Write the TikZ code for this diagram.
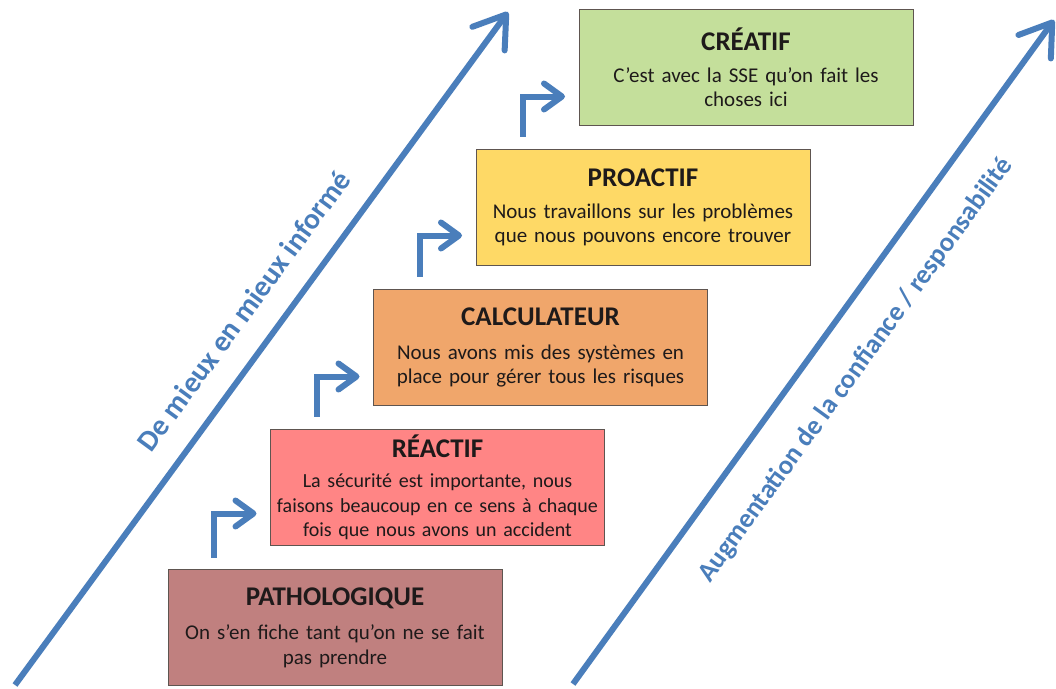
\documentclass[tikz,border=0pt]{standalone}
\usepackage{fontspec}
\setmainfont{Carlito}
\usetikzlibrary{arrows.meta,calc}
\definecolor{arrblue}{HTML}{4A7EBB}
\definecolor{cpatho}{HTML}{C0807F}
\definecolor{creact}{HTML}{FF8585}
\definecolor{ccalc}{HTML}{F0A66B}
\definecolor{cproa}{HTML}{FED966}
\definecolor{ccrea}{HTML}{C4DF9B}
\definecolor{cborder}{HTML}{5E5550}
\definecolor{ctext}{HTML}{1E1A1A}
\newcommand{\boxtitle}[1]{{\bfseries\fontsize{27}{24.5}\selectfont #1}}
\tikzset{
  stagebox/.style={draw=cborder, line width=1pt, rectangle, inner sep=0pt, outer sep=0pt,
    minimum width=334pt, minimum height=116pt, text width=330pt, align=center, text=ctext,
    font=\fontsize{21}{24.5}\selectfont},
  bigarrow/.style={draw=arrblue, line width=6pt, line cap=butt,
    -{Straight Barb[length=30pt,width=40pt,round]}},
  bentarrow/.style={draw=arrblue, line width=6pt, line cap=butt, line join=miter,
    -{Straight Barb[length=18pt,width=26pt,round]}},
  axislabel/.style={text=arrblue, inner sep=0pt, sloped}
}
\begin{document}
\begin{tikzpicture}[x=1pt,y=-1pt]
\useasboundingbox (0,0) rectangle (1056,688);
\fill[white] (0,0) rectangle (1056,688);

% stage boxes
\node[stagebox, fill=cpatho] (patho) at (335,627.5)
  {\boxtitle{PATHOLOGIQUE}\\[10pt]On s’en fiche tant qu’on ne se fait\\ pas prendre};
\node[stagebox, fill=creact, font=\fontsize{20}{24.5}\selectfont] (react) at (437.5,487.5)
  {\boxtitle{RÉACTIF}\\[6pt]La sécurité est importante, nous\\ faisons beaucoup en ce sens à chaque\\ fois que nous avons un accident};
\node[stagebox, fill=ccalc] (calc) at (540.5,347.5)
  {\boxtitle{CALCULATEUR}\\[9pt]Nous avons mis des systèmes en\\ place pour gérer tous les risques};
\node[stagebox, fill=cproa] (proa) at (643,207.5)
  {\boxtitle{PROACTIF}\\[7pt]Nous travaillons sur les problèmes\\ que nous pouvons encore trouver};
\node[stagebox, fill=ccrea] (crea) at (746,67.5)
  {\boxtitle{CRÉATIF}\\[7pt]C’est avec la SSE qu’on fait les\\ choses ici};

% bent arrows between stages
\draw[bentarrow] ($(patho.north west)+(46,-12)$) |- ($(react.west)+(-14,26)$);
\draw[bentarrow] ($(react.north west)+(46,-13)$) |- ($(calc.west)+(-14,29)$);
\draw[bentarrow] ($(calc.north west)+(46,-13)$) |- ($(proa.west)+(-14,28)$);
\draw[bentarrow] ($(proa.north west)+(47,-13)$) |- ($(crea.west)+(-14,29)$);

% big diagonal arrows
\coordinate (L0) at (15,685);
\coordinate (L1) at (508,12);
\coordinate (R0) at (573,684);
\coordinate (R1) at (1054,20);
\draw[bigarrow] (L0) -- (L1);
\draw[bigarrow] (R0) -- (R1);

\path (L0) -- (L1) node[axislabel, pos=0.524, above=26pt, font=\bfseries\fontsize{29.5}{34}\selectfont] (lblL) {De mieux en mieux informé};
\path (R0) -- (R1) node[axislabel, pos=0.512, below=33pt, font=\bfseries\fontsize{27}{32}\selectfont] (lblR) {Augmentation de la confiance / responsabilité};
\end{tikzpicture}
\end{document}
